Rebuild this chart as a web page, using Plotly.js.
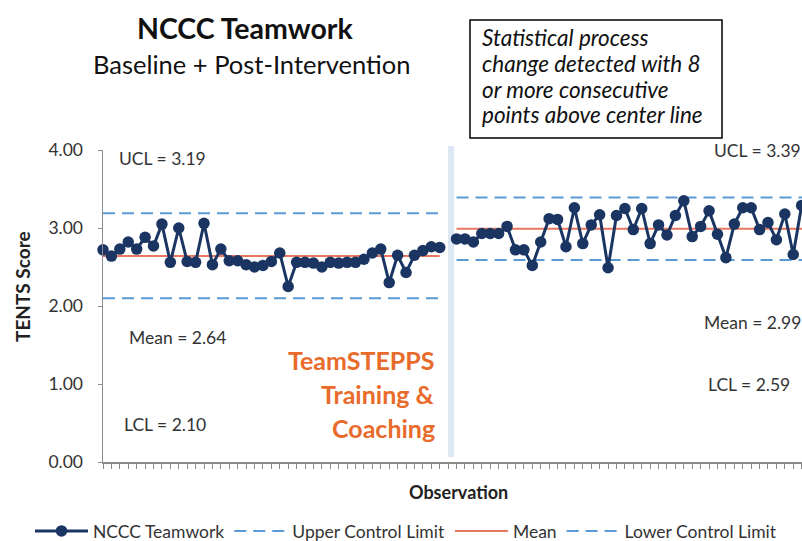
<!DOCTYPE html>
<html>
<head>
<meta charset="utf-8">
<script src="https://cdn.plot.ly/plotly-3.0.1.min.js"></script>
<style>html,body{margin:0;padding:0;background:#fff;overflow:hidden;}#chart{width:802px;height:541px;}</style>
</head>
<body>
<div id="chart"></div>
<script>
// ---- Data ----
const baselineScores = [2.72,2.64,2.73,2.82,2.73,2.88,2.77,3.05,2.56,3.00,2.57,2.56,3.06,2.53,2.73,2.58,2.58,2.53,2.50,2.52,2.57,2.68,2.25,2.56,2.56,2.55,2.50,2.56,2.55,2.56,2.56,2.60,2.68,2.73,2.30,2.65,2.43,2.65,2.71,2.76,2.75];
const postScores = [2.86,2.86,2.82,2.93,2.93,2.93,3.02,2.72,2.72,2.52,2.82,3.12,3.11,2.76,3.26,2.80,3.04,3.17,2.49,3.16,3.25,2.98,3.25,2.80,3.04,2.91,3.16,3.35,2.89,3.02,3.22,2.92,2.62,3.05,3.26,3.26,2.98,3.07,2.85,3.18,2.66,3.29];
const baselineLimits = {ucl: 3.19, mean: 2.64, lcl: 2.10};
const postLimits = {ucl: 3.39, mean: 2.99, lcl: 2.59};
const seriesNames = ["NCCC Teamwork", "Upper Control Limit", "Mean", "Lower Control Limit"];
const yTicks = [0, 1, 2, 3, 4];

// ---- Build series (one blank observation separates the phases) ----
const nB = baselineScores.length, nP = postScores.length;
const gapObs = nB + 1;
const obs = [], scores = [];
baselineScores.forEach((v, i) => { obs.push(i + 1); scores.push(v); });
obs.push(gapObs); scores.push(null);
postScores.forEach((v, i) => { obs.push(gapObs + 1 + i); scores.push(v); });
const lastObs = gapObs + nP;

function limitTrace(key) {
  return {
    x: [1, nB, null, gapObs + 1, lastObs + 2],
    y: [baselineLimits[key], baselineLimits[key], null, postLimits[key], postLimits[key]]
  };
}

const navy = "#1B3563", blue = "#5B9BD5", red = "#E9775F";
const ucl = limitTrace("ucl"), mean = limitTrace("mean"), lcl = limitTrace("lcl");
const traces = [
  {x: ucl.x, y: ucl.y, name: seriesNames[1], mode: "lines", legendrank: 2,
   line: {color: blue, width: 2, dash: "12px,7px"}, connectgaps: false, hoverinfo: "skip"},
  {x: lcl.x, y: lcl.y, name: seriesNames[3], mode: "lines", legendrank: 4,
   line: {color: blue, width: 2, dash: "12px,7px"}, connectgaps: false, hoverinfo: "skip"},
  {x: mean.x, y: mean.y, name: seriesNames[2], mode: "lines", legendrank: 3,
   line: {color: red, width: 2}, connectgaps: false, hoverinfo: "skip"},
  {x: obs, y: scores, name: seriesNames[0], mode: "lines+markers", legendrank: 1,
   line: {color: navy, width: 3}, marker: {color: navy, size: 11.5}, connectgaps: false, cliponaxis: false}
];

// pixel -> paper helpers (plot area: left 103, right 802, top 150, bottom 462)
const L = 103, W = 699, T = 150, H = 312;
const px = x => (x - L) / W;
const py = y => (T + H - y) / H;

const FONT = "Lato, 'Open Sans', sans-serif";
function lab(text, x, y, opts) {
  return Object.assign({text: text, x: px(x), y: py(y), xref: "paper", yref: "paper",
    showarrow: false, xanchor: "left", yanchor: "middle",
    font: {family: FONT, size: 17.5, color: "#333333"}}, opts || {});
}
const orange = "#E96B2B";
const boxFont = {family: FONT, size: 22.5, color: "#111"};
const tsFont = {family: FONT, size: 25, color: orange};
const annotations = [
  lab("<b>NCCC Teamwork</b>", 245, 28, {xanchor: "center", font: {family: FONT, size: 28.5, color: "#111"}}),
  lab("Baseline + Post-Intervention", 251, 64, {xanchor: "center", font: {family: FONT, size: 25.5, color: "#111"}}),
  lab("<i>Statistical process</i>", 480, 38, {font: boxFont}),
  lab("<i>change detected with 8</i>", 480, 63, {font: boxFont}),
  lab("<i>or more consecutive</i>", 480, 89, {font: boxFont}),
  lab("<i>points above center line</i>", 480, 115, {font: boxFont}),
  lab("UCL = 3.19", 117, 158),
  lab("Mean = 2.64", 127, 337),
  lab("LCL = 2.10", 122, 424),
  lab("UCL = 3.39", 712, 150),
  lab("Mean = 2.99", 702, 322),
  lab("LCL = 2.59", 706, 384),
  lab("<b>TeamSTEPPS</b>", 437, 360, {xanchor: "right", font: tsFont}),
  lab("<b>Training &</b>", 437, 394, {xanchor: "right", font: tsFont}),
  lab("<b>Coaching</b>", 437, 428, {xanchor: "right", font: tsFont}),
  lab("<b>Observation</b>", 458, 492, {xanchor: "center", font: {family: FONT, size: 18, color: "#222"}}),
  lab("<b>TENTS Score</b>", 22, 287, {xanchor: "center", textangle: -90, font: {family: FONT, size: 19, color: "#222"}})
];

const shapes = [
  {type: "rect", xref: "paper", yref: "paper", x0: px(470), x1: px(722), y0: py(138), y1: py(20),
   line: {color: "#000", width: 1.5}, fillcolor: "rgba(0,0,0,0)"},
  {type: "line", xref: "paper", yref: "paper", x0: px(451), x1: px(451), y0: py(457), y1: py(146),
   line: {color: "#DCE8F4", width: 6}, layer: "below"}
];

const layout = {
  width: 802, height: 541,
  margin: {l: L, r: 0, t: T, b: 541 - T - H, autoexpand: false},
  paper_bgcolor: "#fff", plot_bgcolor: "#fff",
  font: {family: FONT, color: "#333"},
  showlegend: true,
  legend: {orientation: "h", x: px(30), xanchor: "left", y: py(531), yanchor: "middle",
    font: {family: FONT, size: 17.5, color: "#333"}, itemwidth: 53, bgcolor: "rgba(0,0,0,0)",
    traceorder: "normal"},
  xaxis: {range: [1, 84.04], showline: true, linecolor: "#8c8c8c", linewidth: 1.5,
    ticks: "outside", ticklen: 5, tickcolor: "#8c8c8c", tick0: 1, dtick: 1,
    showticklabels: false, showgrid: false, zeroline: false, fixedrange: true},
  yaxis: {range: [0, 4], tickvals: yTicks, tickformat: ".2f", showline: true, linecolor: "#8c8c8c",
    linewidth: 1.5, ticks: "outside", ticklen: 4, tickcolor: "#8c8c8c", showgrid: false, zeroline: false,
    tickfont: {family: FONT, size: 17.5, color: "#333"}, ticklabelstandoff: 11, fixedrange: true},
  annotations: annotations,
  shapes: shapes
};

Plotly.newPlot("chart", traces, layout, {displayModeBar: false, staticPlot: true});
</script>
</body>
</html>
